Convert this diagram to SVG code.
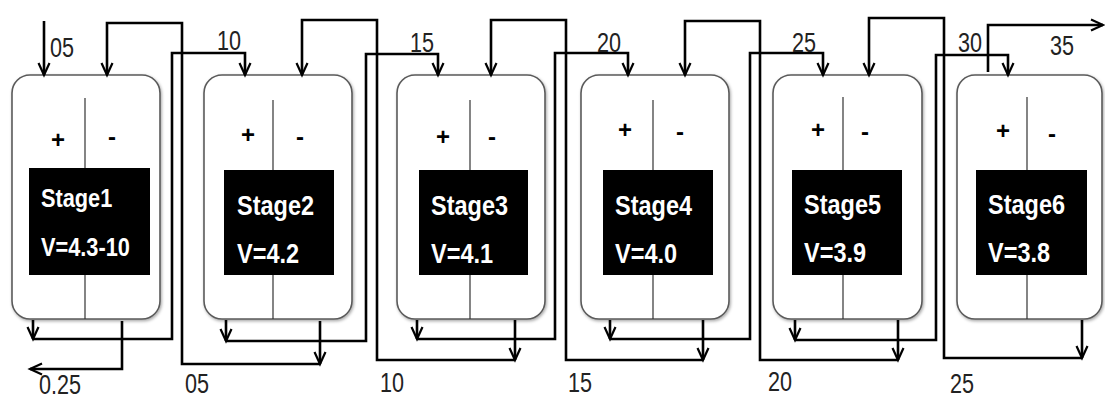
<svg xmlns="http://www.w3.org/2000/svg" width="1105" height="399" viewBox="0 0 1105 399">
<style>
.box{fill:#fff;stroke:#5a5a5a;stroke-width:1.6;filter:url(#sh)}
.div{stroke:#333;stroke-width:1.2}
.blk{fill:#000}
.st{font-family:"Liberation Sans",Arial,sans-serif;font-weight:bold;fill:#fff}
.pm{font-family:"Liberation Sans",Arial,sans-serif;font-weight:bold;font-size:24px;fill:#000;text-anchor:middle}
.num{font-family:"Liberation Sans",Arial,sans-serif;font-size:27px;fill:#222}
.c{fill:none;stroke:#000;stroke-width:2.6;stroke-linejoin:miter}
.a{marker-end:url(#ah)}
</style>
<defs>
<filter id="sh" x="-10%" y="-10%" width="120%" height="120%">
<feDropShadow dx="1" dy="1.5" stdDeviation="1.5" flood-color="#000" flood-opacity="0.35"/>
</filter>
<marker id="ah" viewBox="0 0 12 12" refX="12" refY="6" markerWidth="12" markerHeight="12" markerUnits="userSpaceOnUse" orient="auto" overflow="visible">
<path d="M0,0.5 L12,6 L0,11.5" fill="none" stroke="#000" stroke-width="2.2"/>
</marker>
</defs>
<rect width="1105" height="399" fill="#fff"/>

<g id="stage1">
<rect class="box" x="12" y="75" width="148" height="244" rx="18"/>
<line class="div" x1="85" y1="98" x2="85" y2="319"/>
<rect class="blk" x="29" y="168" width="121" height="107"/>
<text class="pm" x="58" y="148">+</text>
<text class="pm" x="112" y="145">-</text>
<text class="st" font-size="25" transform="translate(41,207) scale(0.87,1)">Stage1</text>
<text class="st" font-size="25" transform="translate(41,256) scale(0.87,1)">V=4.3-10</text>
</g>

<g id="stage2">
<rect class="box" x="204" y="75" width="148" height="244" rx="18"/>
<line class="div" x1="273" y1="100" x2="273" y2="319"/>
<rect class="blk" x="224" y="170" width="110" height="105"/>
<text class="pm" x="248" y="143">+</text>
<text class="pm" x="300" y="145">-</text>
<text class="st" font-size="28" transform="translate(237,215) scale(0.84,1)">Stage2</text>
<text class="st" font-size="28" transform="translate(237,263) scale(0.84,1)">V=4.2</text>
</g>

<g id="stage3">
<rect class="box" x="397" y="75" width="148" height="244" rx="18"/>
<line class="div" x1="470" y1="100" x2="470" y2="319"/>
<rect class="blk" x="419" y="170" width="109" height="105"/>
<text class="pm" x="443" y="145">+</text>
<text class="pm" x="492" y="145">-</text>
<text class="st" font-size="28" transform="translate(431,215) scale(0.84,1)">Stage3</text>
<text class="st" font-size="28" transform="translate(431,263) scale(0.84,1)">V=4.1</text>
</g>

<g id="stage4">
<rect class="box" x="581" y="75" width="148" height="244" rx="18"/>
<line class="div" x1="653" y1="100" x2="653" y2="319"/>
<rect class="blk" x="603" y="170" width="110" height="105"/>
<text class="pm" x="625" y="138">+</text>
<text class="pm" x="680" y="140">-</text>
<text class="st" font-size="28" transform="translate(615,215) scale(0.84,1)">Stage4</text>
<text class="st" font-size="28" transform="translate(615,263) scale(0.84,1)">V=4.0</text>
</g>

<g id="stage5">
<rect class="box" x="773" y="75" width="149" height="244" rx="18"/>
<line class="div" x1="843" y1="97" x2="843" y2="319"/>
<rect class="blk" x="792" y="170" width="110" height="105"/>
<text class="pm" x="818" y="138">+</text>
<text class="pm" x="865" y="140">-</text>
<text class="st" font-size="28" transform="translate(804,214) scale(0.84,1)">Stage5</text>
<text class="st" font-size="28" transform="translate(804,262) scale(0.84,1)">V=3.9</text>
</g>

<g id="stage6">
<rect class="box" x="957" y="75" width="145" height="244" rx="18"/>
<line class="div" x1="1027" y1="97" x2="1027" y2="319"/>
<rect class="blk" x="976" y="170" width="111" height="105"/>
<text class="pm" x="1003" y="139">+</text>
<text class="pm" x="1052" y="142">-</text>
<text class="st" font-size="28" transform="translate(988,214) scale(0.84,1)">Stage6</text>
<text class="st" font-size="28" transform="translate(988,262) scale(0.84,1)">V=3.8</text>
</g>

<g id="connectors">
<path class="c a" d="M44,21 V75"/>
<path class="c a" d="M33,320 V339"/>
<path class="c a" d="M33,339 H172 V53 H245 V75"/>
<path class="c a" d="M122,321 V369 H30"/>
<path class="c a" d="M320,321 V364"/>
<path class="c a" d="M320,364 H182 V23 H107 V75"/>
<path class="c a" d="M226,320 V341"/>
<path class="c a" d="M226,341 H366 V54 H438 V75"/>
<path class="c a" d="M515,320 V360"/>
<path class="c a" d="M515,360 H377 V20 H302 V75"/>
<path class="c a" d="M417,320 V339"/>
<path class="c a" d="M417,339 H555 V53 H628 V75"/>
<path class="c a" d="M703,320 V360"/>
<path class="c a" d="M703,360 H566 V20 H491 V75"/>
<path class="c a" d="M610,320 V339"/>
<path class="c a" d="M610,339 H750 V53 H823 V75"/>
<path class="c a" d="M898,320 V360"/>
<path class="c a" d="M898,360 H760 V21 H685 V75"/>
<path class="c a" d="M795,320 V340"/>
<path class="c a" d="M795,340 H936 V55 H1008 V75"/>
<path class="c a" d="M1082,320 V358"/>
<path class="c a" d="M1082,358 H944 V18 H869 V75"/>
<path class="c a" d="M988,72 V25 H1103"/>
</g>

<g id="labels">
<text class="num" transform="translate(50,57) scale(0.8,1)">05</text>
<text class="num" transform="translate(217,50) scale(0.8,1)">10</text>
<text class="num" transform="translate(410,52) scale(0.8,1)">15</text>
<text class="num" transform="translate(597,52) scale(0.8,1)">20</text>
<text class="num" transform="translate(792,52) scale(0.8,1)">25</text>
<text class="num" transform="translate(958,52) scale(0.8,1)">30</text>
<text class="num" transform="translate(1050,55) scale(0.8,1)">35</text>
<text class="num" transform="translate(39,394) scale(0.8,1)">0.25</text>
<text class="num" transform="translate(185,393) scale(0.8,1)">05</text>
<text class="num" transform="translate(380,392) scale(0.8,1)">10</text>
<text class="num" transform="translate(568,392) scale(0.8,1)">15</text>
<text class="num" transform="translate(768,391) scale(0.8,1)">20</text>
<text class="num" transform="translate(950,393) scale(0.8,1)">25</text>
</g>
</svg>
